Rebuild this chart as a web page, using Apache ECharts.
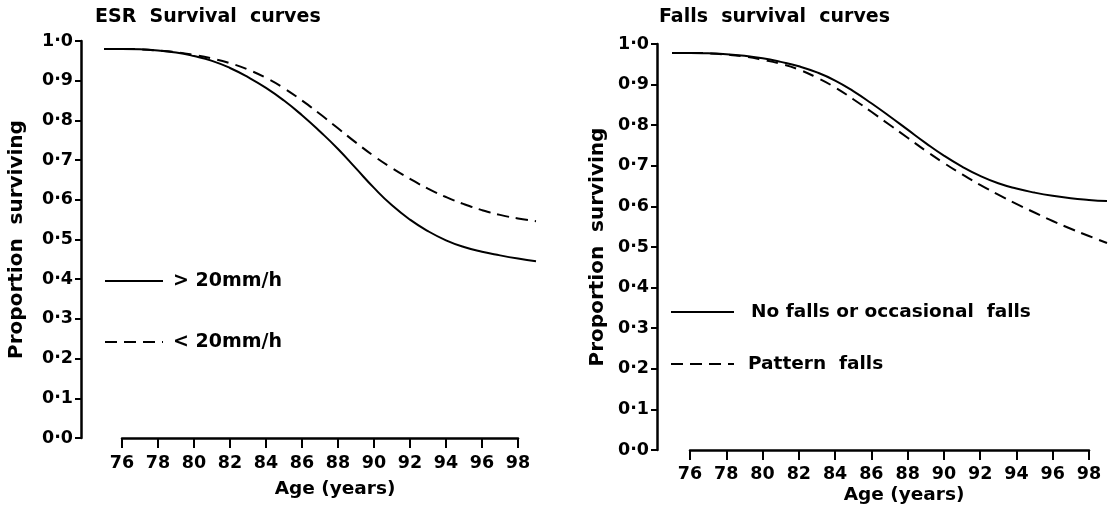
<!DOCTYPE html>
<html><head><meta charset="utf-8">
<script src="https://cdn.jsdelivr.net/npm/echarts@6/dist/echarts.min.js"></script>
<style>html,body{margin:0;padding:0;background:#fff}#c{width:1116px;height:511px}</style>
</head><body><div id="c"></div>
<script>
const ages = [75,76,77,78,79,80,81,82,83,84,85,86,87,88,89,90,91,92,93,94,95,96,97,98,99];
const esrHigh = [0.980,0.980,0.979,0.976,0.971,0.962,0.950,0.932,0.909,0.882,0.850,0.813,0.772,0.728,0.679,0.630,0.586,0.550,0.521,0.498,0.481,0.469,0.460,0.452,0.445];
const esrLow  = [0.980,0.980,0.979,0.976,0.972,0.965,0.956,0.944,0.928,0.907,0.881,0.850,0.816,0.780,0.744,0.710,0.680,0.653,0.628,0.607,0.589,0.574,0.562,0.553,0.546];
const fallsNone    = [0.978,0.978,0.977,0.975,0.971,0.965,0.956,0.945,0.930,0.910,0.884,0.854,0.822,0.789,0.756,0.725,0.698,0.675,0.657,0.644,0.634,0.626,0.620,0.616,0.613];
const fallsPattern = [0.978,0.978,0.977,0.974,0.969,0.961,0.951,0.937,0.917,0.893,0.864,0.833,0.801,0.769,0.737,0.707,0.679,0.653,0.629,0.606,0.585,0.564,0.545,0.527,0.510];
const yTickLabels = ['0·0','0·1','0·2','0·3','0·4','0·5','0·6','0·7','0·8','0·9','1·0'];
const chartTitles = ['ESR  Survival  curves', 'Falls  survival  curves'];
const esrNames = ['> 20mm/h', '< 20mm/h'];
const fallsNames = ['No falls or occasional  falls', 'Pattern  falls'];
const xName = 'Age (years)';
const yName = 'Proportion  surviving';

const FONT = "'DejaVu Sans', sans-serif";
const W = 'bold';
const DASH = [12, 7];
const pairs = arr => ages.map((a, i) => [a, arr[i]]);
const yFmt = v => yTickLabels[Math.round(v * 10)];

function dataX(grid) { return { gridIndex: grid, type: 'value', min: 75, max: 99, show: false }; }
function dispX(grid, margin, gap, pad) {
  return {
    gridIndex: grid, type: 'value', min: 76, max: 98, interval: 2,
    axisLine: { show: true, onZero: false, lineStyle: { color: '#000', width: 2.5 } },
    axisTick: { show: true, inside: false, length: 10, lineStyle: { color: '#000', width: 2 } },
    axisLabel: { color: '#000', fontSize: 17.5, fontWeight: W, fontFamily: FONT, margin: margin },
    splitLine: { show: false },
    name: xName, nameLocation: 'middle', nameGap: gap,
    nameTextStyle: { color: '#000', fontSize: 18.5, fontWeight: W, fontFamily: FONT, padding: [0, 0, 0, pad] }
  };
}
function dataY(grid, offset, gap) {
  return {
    gridIndex: grid, type: 'value', min: 0, max: 1, interval: 0.1, offset: offset,
    axisLine: { show: true, onZero: false, lineStyle: { color: '#000', width: 2.5 } },
    axisTick: { show: true, inside: false, length: 6, lineStyle: { color: '#000', width: 2 } },
    axisLabel: { color: '#000', fontSize: 17.5, fontWeight: W, fontFamily: FONT, margin: 8, formatter: yFmt },
    splitLine: { show: false },
    name: yName, nameLocation: 'middle', nameGap: gap, nameRotate: 90,
    nameTextStyle: { color: '#000', fontSize: 20, fontWeight: W, fontFamily: FONT }
  };
}
function hiddenY(grid) { return { gridIndex: grid, type: 'value', min: 0, max: 1, show: false }; }

function line(name, arr, axis, dashed) {
  return {
    name: name, type: 'line', xAxisIndex: axis, yAxisIndex: axis,
    data: pairs(arr), smooth: 0.5, symbol: 'none', silent: true,
    lineStyle: { color: '#000', width: 2, type: dashed ? DASH : 'solid' },
    itemStyle: { color: '#000' }
  };
}
function leg(name, left, top, w, dashed, textPad, fs) {
  return {
    data: [name], left: left, top: top, padding: 0, orient: 'horizontal',
    itemWidth: w, itemHeight: 24, selectedMode: false,
    lineStyle: { color: '#000', width: 2, type: dashed ? DASH : 'solid' },
    itemStyle: { color: '#000', opacity: 0 },
    textStyle: { color: '#000', fontSize: fs, fontWeight: W, fontFamily: FONT, lineHeight: 24, padding: [0, 0, 0, textPad] }
  };
}

const chart = echarts.init(document.getElementById('c'), null, { renderer: 'canvas' });
chart.setOption({
  animation: false,
  backgroundColor: '#fff',
  title: [
    { text: chartTitles[0], left: 95, top: 8, padding: 0, textStyle: { color: '#000', fontSize: 19, fontWeight: W, fontFamily: FONT } },
    { text: chartTitles[1], left: 659, top: 8, padding: 0, textStyle: { color: '#000', fontSize: 19, fontWeight: W, fontFamily: FONT } }
  ],
  grid: [
    { left: 104, top: 41, width: 432, height: 397 },
    { left: 122, top: 428, width: 396, height: 10 },
    { left: 672, top: 44, width: 435, height: 406 },
    { left: 690, top: 440, width: 399, height: 10 }
  ],
  xAxis: [ dataX(0), dispX(1, 16, 42, 30), dataX(2), dispX(3, 15, 36, 29) ],
  yAxis: [ dataY(0, 23, 54), hiddenY(1), dataY(2, 15, 49), hiddenY(3) ],
  legend: [
    leg(esrNames[0], 104, 269, 58, false, 5, 19),
    leg(esrNames[1], 104, 330, 58, true, 5, 19),
    leg(fallsNames[0], 670, 300, 63, false, 12, 18.5),
    leg(fallsNames[1], 670, 352, 63, true, 9, 18.5)
  ],
  series: [
    line(esrNames[0], esrHigh, 0, false),
    line(esrNames[1], esrLow, 0, true),
    line(fallsNames[0], fallsNone, 2, false),
    line(fallsNames[1], fallsPattern, 2, true)
  ]
});
</script>
</body></html>
